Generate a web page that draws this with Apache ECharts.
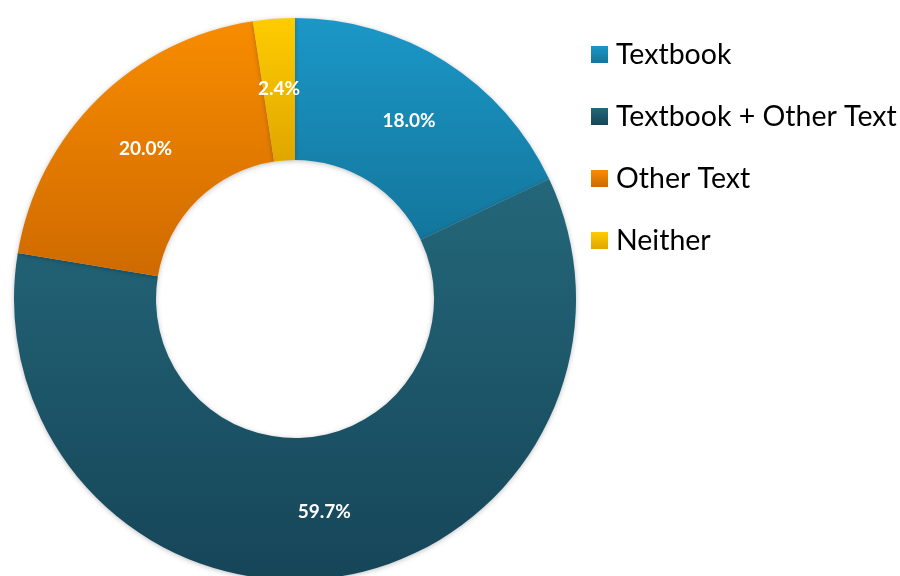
<!DOCTYPE html>
<html>
<head>
<meta charset="utf-8">
<script src="https://cdn.jsdelivr.net/npm/echarts@6/dist/echarts.min.js"></script>
<style>html,body{margin:0;padding:0;background:#fff}#c{width:900px;height:576px}</style>
</head>
<body>
<div id="c"></div>
<script>
var categories = ['Textbook', 'Textbook + Other Text', 'Other Text', 'Neither'];
var values = [18.0, 59.7, 20.0, 2.4];
var topColors = ['#1b97c7', '#24677a', '#f88c00', '#ffcc00'];
var bottomColors = ['#13769c', '#164558', '#cf6a00', '#e0a600'];

function grad(a, b) {
  return new echarts.graphic.LinearGradient(0, 0, 0, 1, [{offset: 0, color: a}, {offset: 1, color: b}]);
}

var chart = echarts.init(document.getElementById('c'), null, {renderer: 'canvas'});
var data = categories.map(function (n, i) {
  return {name: n, value: values[i], itemStyle: {color: grad(topColors[i], bottomColors[i])}};
});
chart.setOption({
  animation: false,
  legend: {
    orient: 'vertical',
    left: 586,
    top: 35,
    itemWidth: 17,
    itemHeight: 17,
    itemGap: 33,
    icon: 'rect',
    data: categories,
    textStyle: {fontFamily: 'Lato', fontSize: 28.5, color: '#000', padding: [0, 0, 0, 3]}
  },
  series: [{
    type: 'pie',
    center: [295, 299],
    radius: [139, 281],
    startAngle: 90,
    clockwise: true,
    avoidLabelOverlap: false,
    label: {
      show: true,
      position: 'inside',
      offset: [0, 2],
      formatter: function (p) { return p.value.toFixed(1) + '%'; },
      color: '#fff',
      fontFamily: 'Lato',
      fontWeight: 'bold',
      fontSize: 19
    },
    labelLine: {show: false},
    emphasis: {disabled: true},
    itemStyle: {borderWidth: 0, shadowBlur: 5, shadowColor: 'rgba(0,0,0,0.25)', shadowOffsetY: 1},
    data: data
  }]
});
</script>
</body>
</html>
